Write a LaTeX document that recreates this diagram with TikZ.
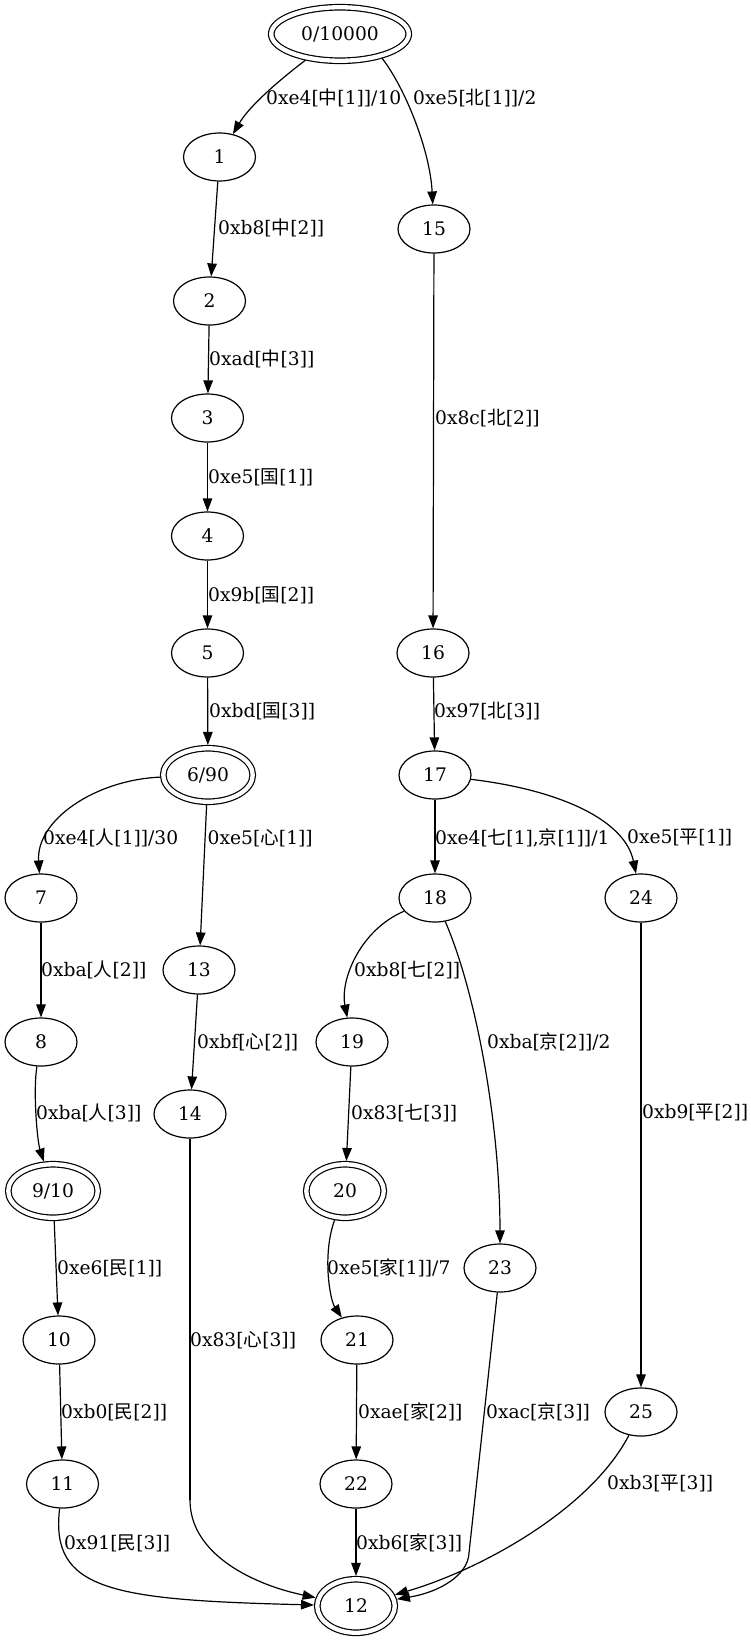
\documentclass[tikz,border=0pt]{standalone}
\usepackage{fontspec}
\setmainfont{DejaVu Serif}
\newfontfamily\cjk{Noto Sans CJK SC}
\usetikzlibrary{arrows.meta,shapes.geometric}
\newcommand{\zh}[1]{{\cjk #1}}
\begin{document}
\begin{tikzpicture}[x=1pt,y=-1pt,
  every node/.style={font=\fontsize{18.67}{22}\selectfont},
  st/.style={draw, ellipse, line width=1.2pt, minimum width=72pt, minimum height=48pt, inner sep=0pt},
  dbl/.style={draw, ellipse, double, double distance=4.3pt, line width=1.2pt, minimum height=53.5pt, inner sep=0pt, outer sep=3.3pt},
  edge/.style={draw, line width=1.2pt, -{Triangle[length=13pt,width=9.5pt]}},
  lbl/.style={anchor=west, inner sep=0pt}]
\useasboundingbox (0,0) rectangle (751,1643);
% nodes
\node[dbl, minimum width=137.5pt] (n0) at (340,34) {0/10000};
\node[st] (n1) at (219.5,157) {1};
\node[st] (n15) at (434,229) {15};
\node[st] (n2) at (209.5,301) {2};
\node[st] (n3) at (207.5,418) {3};
\node[st] (n4) at (207.5,536) {4};
\node[st] (n5) at (207.5,653) {5};
\node[st] (n16) at (433,653) {16};
\node[dbl, minimum width=89.5pt] (n6) at (208,775) {6/90};
\node[st] (n17) at (435,775) {17};
\node[st] (n7) at (41,898) {7};
\node[st] (n18) at (435,898) {18};
\node[st] (n24) at (641,898) {24};
\node[st] (n13) at (199,970) {13};
\node[st] (n8) at (41,1042) {8};
\node[st] (n19) at (352,1042) {19};
\node[st] (n14) at (190,1114) {14};
\node[dbl, minimum width=89.5pt] (n9) at (53,1191) {9/10};
\node[dbl, minimum width=77.5pt] (n20) at (345,1191) {20};
\node[st] (n23) at (500,1268) {23};
\node[st] (n10) at (59,1340) {10};
\node[st] (n21) at (357,1340) {21};
\node[st] (n25) at (641,1412) {25};
\node[st] (n11) at (62.5,1484) {11};
\node[st] (n22) at (356,1484) {22};
\node[dbl, minimum width=77.5pt] (n12) at (356,1606) {12};
% waypoints
\coordinate (w14) at (190,1500);
\coordinate (w23) at (469,1553);
% edges
\draw[edge] (n0) .. controls (282,78) and (250,105) .. (n1);
\draw[edge] (n0.-30) .. controls (405,88) and (430,150) .. (n15);
\draw[edge] (n1) -- (n2);
\draw[edge] (n2) -- (n3);
\draw[edge] (n3) -- (n4);
\draw[edge] (n4) -- (n5);
\draw[edge] (n5) -- (n6);
\draw[edge] (n15) -- (n16);
\draw[edge] (n16) -- (n17);
\draw[edge] (n6) .. controls (95,780) and (36,820) .. (n7);
\draw[edge] (n6) -- (n13);
\draw[edge] (n17) -- (n18);
\draw[edge] (n17) .. controls (560,790) and (625,820) .. (n24);
\draw[edge] (n7) -- (n8);
\draw[edge] (n18) .. controls (360,930) and (340,980) .. (n19);
\draw[edge] (n13) -- (n14);
\draw[edge] (n18) .. controls (475,990) and (500,1120) .. (n23);
\draw[edge] (n8) .. controls (33,1090) and (37,1140) .. (n9);
\draw[edge] (n19) -- (n20);
\draw[edge] (n24) -- (n25);
\draw[edge] (n9) -- (n10);
\draw[edge] (n20) .. controls (322,1255) and (330,1300) .. (n21);
\draw[line width=1.2pt] (n14) -- (w14);
\draw[edge] (w14) .. controls (190,1555) and (255,1585) .. (n12);
\draw[edge] (n10) -- (n11);
\draw[edge] (n21) -- (n22);
\draw[line width=1.2pt] (n23) -- (w23);
\draw[edge] (w23) .. controls (468,1575) and (440,1592) .. (n12);
\draw[edge] (n25) .. controls (590,1510) and (480,1570) .. (n12);
\draw[edge] (n11) .. controls (50,1590) and (110,1600) .. (n12);
\draw[edge] (n22) -- (n12);
% labels
\node[lbl] (l0a) at (266,98) {0xe4[\zh{中}[1]]/10};
\node[lbl] (l0b) at (413,98) {0xe5[\zh{北}[1]]/2};
\node[lbl] (l12) at (218,228) {0xb8[\zh{中}[2]]};
\node[lbl] (l23) at (209,359) {0xad[\zh{中}[3]]};
\node[lbl] (l1516) at (435,418) {0x8c[\zh{北}[2]]};
\node[lbl] (l34) at (208,477) {0xe5[\zh{国}[1]]};
\node[lbl] (l45) at (208,595) {0x9b[\zh{国}[2]]};
\node[lbl] (l56) at (209,711) {0xbd[\zh{国}[3]]};
\node[lbl] (l1617) at (434,711) {0x97[\zh{北}[3]]};
\node[lbl] (l67) at (43,838) {0xe4[\zh{人}[1]]/30};
\node[lbl] (l613) at (207.5,838) {0xe5[\zh{心}[1]]};
\node[lbl] (l1718) at (435,838) {0xe4[\zh{七}[1],\zh{京}[1]]/1};
\node[lbl] (l1724) at (627,838) {0xe5[\zh{平}[1]]};
\node[lbl] (l78) at (41,970) {0xba[\zh{人}[2]]};
\node[lbl] (l1819) at (354,970) {0xb8[\zh{七}[2]]};
\node[lbl] (l1314) at (197,1042) {0xbf[\zh{心}[2]]};
\node[lbl] (l1823) at (487,1042) {0xba[\zh{京}[2]]/2};
\node[lbl] (l89) at (36,1113) {0xba[\zh{人}[3]]};
\node[lbl] (l1920) at (351,1113) {0x83[\zh{七}[3]]};
\node[lbl] (l2425) at (642,1113) {0xb9[\zh{平}[2]]};
\node[lbl] (l910) at (57,1268) {0xe6[\zh{民}[1]]};
\node[lbl] (l2021) at (327,1268) {0xe5[\zh{家}[1]]/7};
\node[lbl] (l1412) at (190,1340) {0x83[\zh{心}[3]]};
\node[lbl] (l1011) at (61,1412) {0xb0[\zh{民}[2]]};
\node[lbl] (l2122) at (358,1412) {0xae[\zh{家}[2]]};
\node[lbl] (l2312) at (486,1412) {0xac[\zh{京}[3]]};
\node[lbl] (l2512) at (607,1483) {0xb3[\zh{平}[3]]};
\node[lbl] (l1112) at (64,1543) {0x91[\zh{民}[3]]};
\node[lbl] (l2212) at (356,1543) {0xb6[\zh{家}[3]]};
\end{tikzpicture}
\end{document}
